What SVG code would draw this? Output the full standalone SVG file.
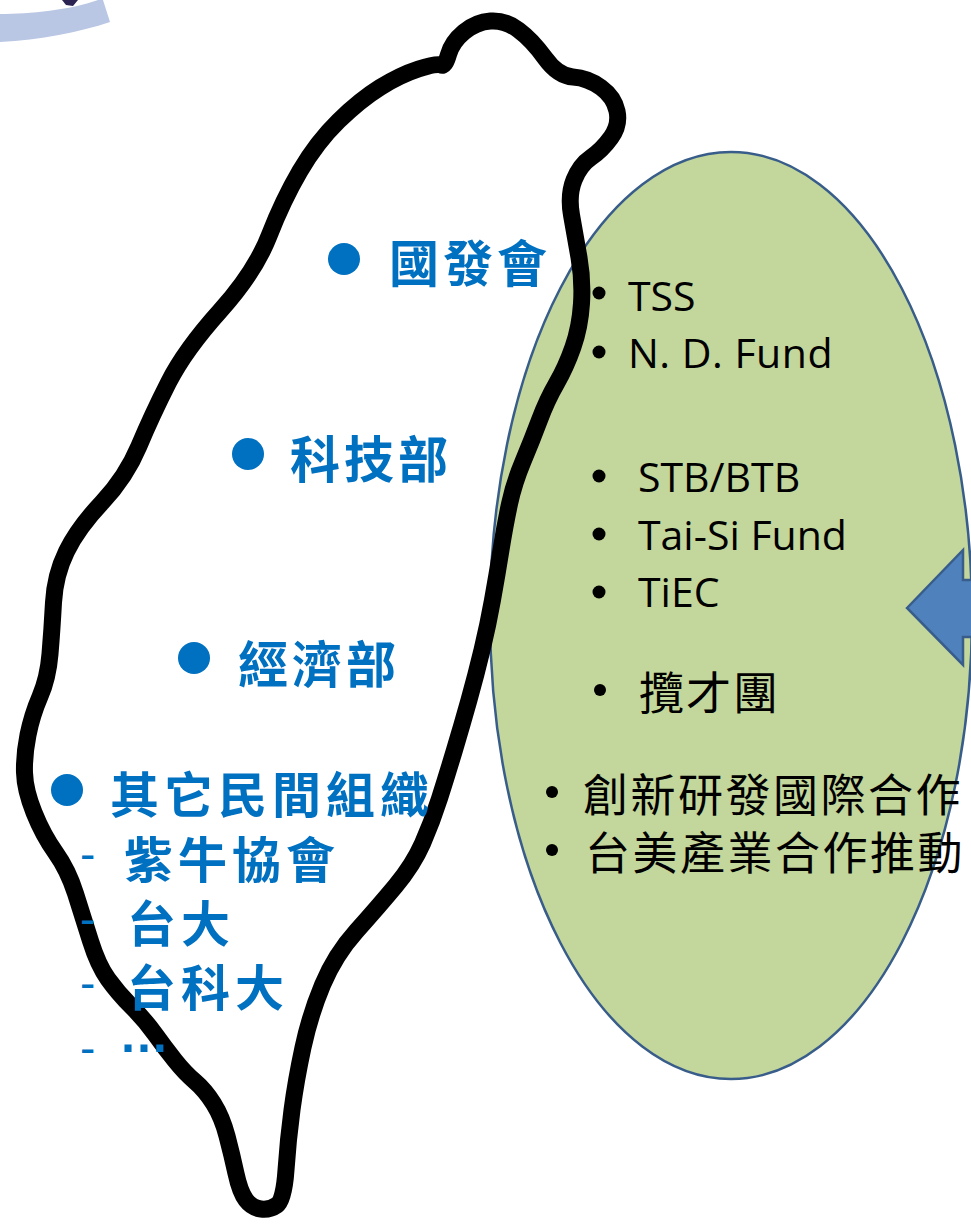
<svg xmlns="http://www.w3.org/2000/svg" width="971" height="1225" viewBox="0 0 971 1225">
<style>
.blue{font-family:"Noto Sans CJK TC","Noto Sans CJK SC",sans-serif;font-weight:700;fill:#0070C0;font-size:50px;letter-spacing:4px}
.sub{font-size:49px;letter-spacing:5px}
.dash{font-family:"Liberation Sans",Arial,sans-serif;fill:#0070C0;font-size:46px}
.lat{font-family:"Open Sans","Liberation Sans",sans-serif;fill:#000;font-size:41px}
.cjk{font-family:"Noto Sans CJK TC","Noto Sans CJK SC",sans-serif;fill:#000;font-size:45px}
.bb{fill:#0070C0}
.kb{fill:#000}
</style>
<rect width="971" height="1225" fill="#fff"/>
<g id="logo-fragment">
<path d="M0,14 C30,14 70,10 98,0 L103,0 L110,22 C80,32 40,40 0,42 Z" fill="#b9c6e4"/>
<path d="M62,0 L78,0 L73,6 L66,5 Z" fill="#2b2453"/>
</g>
<g id="ellipse">
<ellipse cx="731" cy="615.5" rx="241" ry="463.5" fill="#c3d69b" stroke="#385d8a" stroke-width="2.5"/>
</g>
<g id="arrow">
<path d="M907,608 L963,550 L963,580 L980,580 L980,637 L963,637 L963,665 Z" fill="#4f81bd" stroke="#385d8a" stroke-width="2.5" stroke-linejoin="miter"/>
</g>
<g id="taiwan">
<path d="M 441,65 Q 445,67 448.5,54.5 Q 452,42 464,32 Q 476,22 490.5,21 Q 505,20 518.5,30 Q 532,40 545,58 Q 558,76 573,77 Q 588,78 601,87.5 Q 614,97 617,111 Q 620,125 611,137.5 Q 602,150 591,157.5 Q 580,165 574,180 Q 568,195 571.5,215 Q 575,235 579,257.5 Q 583,280 581.5,303.5 Q 580,327 573,347 Q 566,367 556.5,383.5 Q 547,400 539.5,420 Q 532,440 523,461.5 Q 514,483 509.5,504 Q 505,525 501,550 Q 497,575 492.5,600 Q 488,625 482,650 Q 476,675 469,700 Q 462,725 454.5,750 Q 447,775 439.5,798.5 Q 432,822 422.5,843.5 Q 413,865 395.5,886 Q 378,907 356.5,931 Q 335,955 322.5,985 Q 310,1015 303,1047.5 Q 296,1080 292,1110 Q 288,1140 286,1170 Q 284,1200 277,1205 Q 270,1210 261,1209 Q 252,1208 246,1200 Q 240,1192 236,1173.5 Q 232,1155 227,1136 Q 222,1117 213.5,1103.5 Q 205,1090 195,1081.5 Q 185,1073 175,1060.5 Q 165,1048 155,1034 Q 145,1020 131.5,1006.5 Q 118,993 108,979 Q 98,965 90.5,941 Q 83,917 75.5,893.5 Q 68,870 55.5,852.5 Q 43,835 34,812.5 Q 25,790 24.5,772.5 Q 24,755 28,735 Q 32,715 40,696.5 Q 48,678 50,654 Q 52,630 53.5,602.5 Q 55,575 66.5,551.5 Q 78,528 102,502.5 Q 126,477 139,446 Q 152,415 168.5,382.5 Q 185,350 220,311 Q 255,272 269,236 Q 283,200 300,171 Q 317,142 338.5,121 Q 360,100 380,87.5 Q 400,75 418.5,69 Q 437,63 441,65 Z" fill="none" stroke="#000" stroke-width="17" stroke-linejoin="round"/>
</g>
<g id="ndc"><circle class="bb" cx="344" cy="259" r="16"/><text class="blue" x="389" y="282">國發會</text></g>
<g id="most"><circle class="bb" cx="248" cy="454" r="16"/><text class="blue" x="290" y="478">科技部</text></g>
<g id="moea"><circle class="bb" cx="194" cy="658" r="16"/><text class="blue" x="238" y="683">經濟部</text></g>
<g id="others">
<circle class="bb" cx="67" cy="790" r="16"/>
<text class="blue sub" x="110" y="813">其它民間組織</text>
<text class="dash" x="80" y="870">-</text>
<text class="blue sub" x="124" y="878">紫牛協會</text>
<text class="dash" x="80" y="935">-</text>
<text class="blue sub" x="127" y="942">台大</text>
<text class="dash" x="80" y="999">-</text>
<text class="blue sub" x="127" y="1006">台科大</text>
<text class="dash" x="80" y="1064">-</text>
<text x="119" y="1052" style="font-family:'Liberation Sans',Arial,sans-serif;font-weight:700;font-size:50px;fill:#0070C0">…</text>
</g>
<g id="list">
<circle class="kb" cx="599" cy="293" r="6.5"/><text class="lat" x="628" y="311">TSS</text>
<circle class="kb" cx="599" cy="352" r="6.5"/><text class="lat" x="628" y="368" style="letter-spacing:0.5px">N. D. Fund</text>
<circle class="kb" cx="599" cy="476" r="6.5"/><text class="lat" x="638" y="492">STB/BTB</text>
<circle class="kb" cx="599" cy="534" r="6.5"/><text class="lat" x="638" y="550">Tai-Si Fund</text>
<circle class="kb" cx="599" cy="592" r="6.5"/><text class="lat" x="638" y="607">TiEC</text>
<circle class="kb" cx="600" cy="690" r="6"/><text class="cjk" x="639" y="710" style="letter-spacing:2px">攬才團</text>
<circle class="kb" cx="552" cy="792" r="6"/><text class="cjk" x="583" y="812" style="letter-spacing:2.5px">創新研發國際合作</text>
<circle class="kb" cx="552" cy="850" r="6"/><text class="cjk" x="585" y="870" style="letter-spacing:2.5px">台美產業合作推動</text>
</g>
</svg>
